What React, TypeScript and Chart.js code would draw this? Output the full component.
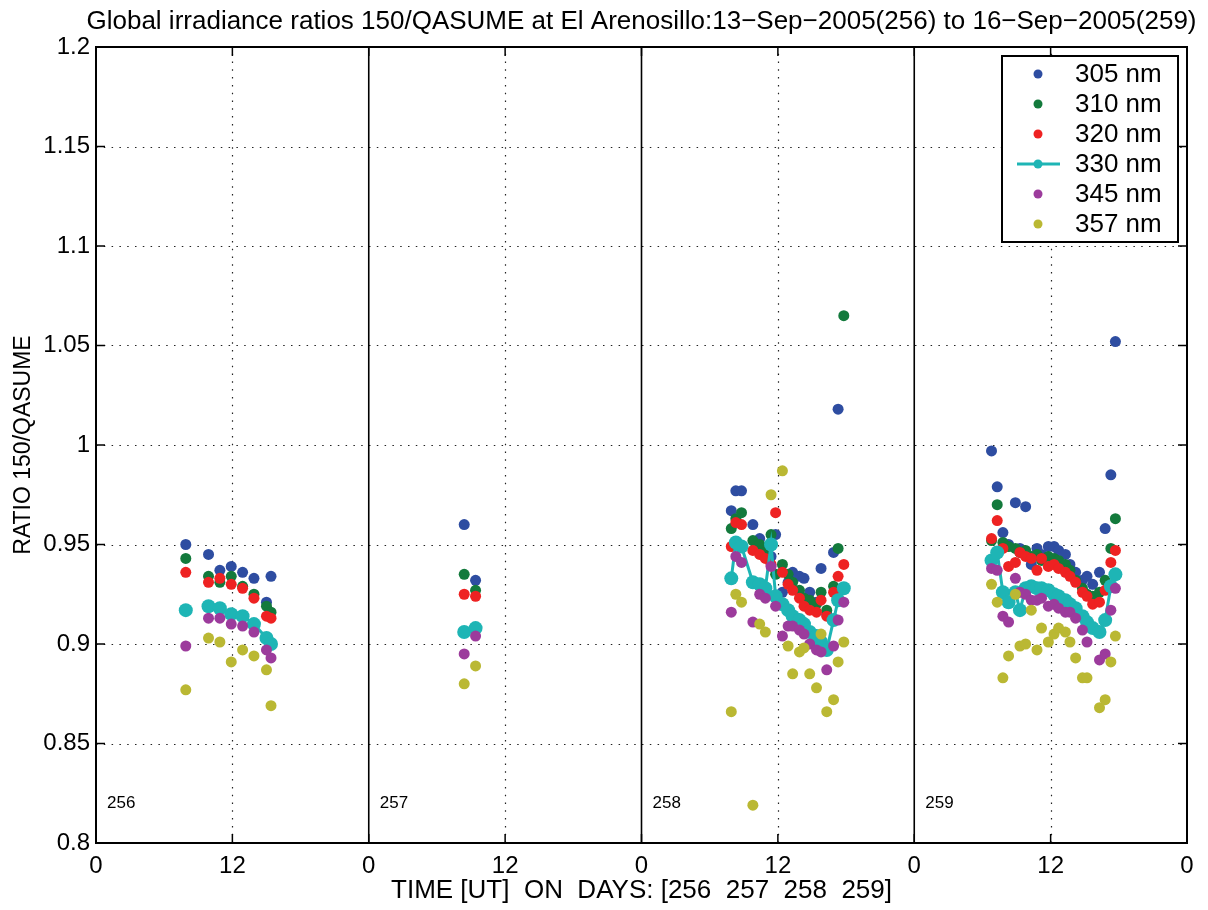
import React, { useEffect, useRef } from 'react';
import { Chart, registerables } from 'chart.js';

Chart.register(...registerables);

const FONT = "'Liberation Sans', Arial, Helvetica, sans-serif";

const titleText =
  'Global irradiance ratios 150/QASUME at El Arenosillo:13\u2212Sep\u22122005(256) to 16\u2212Sep\u22122005(259)';
const xTitle = 'TIME [UT]  ON  DAYS: [256  257  258  259]';
const yTitle = 'RATIO 150/QASUME';

const dayNumbers = [256, 257, 258, 259];
const dayLabelLevel = 0.82;

// measurement times (UT hours) for each day
const hours256 = [7.9, 9.9, 10.9, 11.9, 12.9, 13.9, 15.0, 15.4];
const hours257 = [8.4, 9.4];
const hours258 = [7.9, 8.3, 8.8, 9.8, 10.4, 10.9, 11.4, 11.8, 12.4, 12.9, 13.3, 13.9, 14.3, 14.8, 15.4, 15.8, 16.3, 16.9, 17.3, 17.8];
const hours259 = [6.8, 7.3, 7.8, 8.3, 8.9, 9.3, 9.8, 10.3, 10.8, 11.2, 11.8, 12.3, 12.7, 13.3, 13.7, 14.2, 14.8, 15.2, 15.7, 16.3, 16.8, 17.3, 17.7];
const hoursByDay = [hours256, hours257, hours258, hours259];

const xTickHours = [0, 12, 24, 36, 48, 60, 72, 84, 96];
const xTickLabels = ['0', '12', '0', '12', '0', '12', '0', '12', '0'];
const yTicks = [0.8, 0.85, 0.9, 0.95, 1.0, 1.05, 1.1, 1.15, 1.2];
const yTickLabels = ['0.8', '0.85', '0.9', '0.95', '1', '1.05', '1.1', '1.15', '1.2'];

const seriesNames = ['305 nm', '310 nm', '320 nm', '330 nm', '345 nm', '357 nm'];
const seriesColors = ['#2e4da1', '#137a3c', '#ee2222', '#1eb5b5', '#9c3b9c', '#bab833'];

type V = number | null;

const s305: V[][] = [
  [0.950, 0.945, 0.937, 0.939, 0.936, 0.933, 0.921, 0.934],
  [0.960, 0.932],
  [0.967, 0.977, 0.977, 0.960, 0.953, 0.948, 0.944, 0.955, 0.926, 0.931, 0.936, 0.934, 0.933, 0.926, 0.921, 0.938, 0.915, 0.946, 1.018, null],
  [0.997, 0.979, 0.956, 0.950, 0.971, 0.948, 0.969, 0.940, 0.948, 0.945, 0.949, 0.949, 0.947, 0.945, 0.940, 0.936, 0.932, 0.934, 0.930, 0.936, 0.958, 0.985, 1.052],
];
const s310: V[][] = [
  [0.943, 0.934, 0.931, 0.934, 0.929, 0.925, 0.919, 0.916],
  [0.935, 0.927],
  [0.958, 0.963, 0.966, 0.952, 0.950, 0.946, 0.955, 0.935, 0.940, 0.935, 0.931, 0.927, 0.923, 0.922, 0.920, 0.926, 0.917, 0.929, 0.948, 1.065],
  [0.952, 0.970, 0.951, 0.949, 0.948, 0.946, 0.947, 0.944, 0.945, 0.942, 0.944, 0.943, 0.942, 0.940, 0.937, 0.932, 0.928, 0.925, 0.924, 0.926, 0.932, 0.948, 0.963],
];
const s320: V[][] = [
  [0.936, 0.931, 0.933, 0.930, 0.928, 0.923, 0.914, 0.913],
  [0.925, 0.924],
  [0.949, 0.961, 0.960, 0.947, 0.945, 0.943, 0.940, 0.966, 0.936, 0.930, 0.927, 0.923, 0.919, 0.917, 0.916, 0.922, 0.914, 0.926, 0.934, 0.940],
  [0.953, 0.962, 0.948, 0.939, 0.941, 0.946, 0.944, 0.943, 0.937, 0.943, 0.939, 0.940, 0.938, 0.936, 0.934, 0.931, 0.926, 0.924, 0.920, 0.921, 0.927, 0.941, 0.947],
];
const s330: V[][] = [
  [0.917, 0.919, 0.918, 0.915, 0.914, 0.910, 0.903, 0.900],
  [0.906, 0.908],
  [0.933, 0.951, 0.949, 0.931, 0.930, 0.928, 0.950, 0.924, 0.920, 0.917, 0.914, 0.912, 0.910, 0.906, 0.904, 0.901, 0.897, 0.912, 0.922, 0.928],
  [0.942, 0.946, 0.926, 0.921, 0.926, 0.917, 0.928, 0.929, 0.928, 0.928, 0.927, 0.925, 0.924, 0.922, 0.920, 0.918, 0.914, 0.911, 0.908, 0.906, 0.912, 0.929, 0.935],
];
const s345: V[][] = [
  [0.899, 0.913, 0.913, 0.910, 0.909, 0.906, 0.897, 0.893],
  [0.895, 0.904],
  [0.916, 0.944, 0.941, 0.911, 0.925, 0.923, 0.939, 0.919, 0.904, 0.909, 0.909, 0.907, 0.905, 0.900, 0.897, 0.896, 0.887, 0.899, 0.912, 0.921],
  [0.938, 0.937, 0.914, 0.911, 0.933, 0.926, 0.925, 0.922, 0.922, 0.923, 0.919, 0.920, 0.918, 0.916, 0.916, 0.913, 0.907, 0.901, null, 0.892, 0.895, 0.917, 0.928],
];
const s357: V[][] = [
  [0.877, 0.903, 0.901, 0.891, 0.897, 0.894, 0.887, 0.869],
  [0.880, 0.889],
  [0.866, 0.925, 0.921, 0.819, 0.910, 0.906, 0.975, null, 0.987, 0.899, 0.885, 0.896, 0.898, 0.885, 0.878, 0.905, 0.866, 0.872, 0.891, 0.901],
  [0.930, 0.921, 0.883, 0.894, 0.925, 0.899, 0.900, 0.917, 0.897, 0.908, 0.901, 0.905, 0.908, 0.906, 0.901, 0.893, 0.883, 0.883, null, 0.868, 0.872, 0.891, 0.904],
];
const allSeries = [s305, s310, s320, s330, s345, s357];

function buildPoints(values: V[][], withGaps: boolean) {
  const pts: { x: number; y: number | null }[] = [];
  values.forEach((dayVals, d) => {
    const times = hoursByDay[d];
    let prev: number | null = null;
    dayVals.forEach((v, j) => {
      if (v === null) return;
      const x = d * 24 + times[j];
      if (withGaps && prev !== null && x - prev > 1.5) pts.push({ x: (x + prev) / 2, y: null });
      pts.push({ x, y: v });
      prev = x;
    });
    if (withGaps) pts.push({ x: d * 24 + 23.5, y: null });
  });
  return pts;
}

const framePlugin = {
  id: 'matlabFrame',
  beforeDatasetsDraw(chart: any) {
    const { ctx, chartArea: a, scales } = chart;
    const xs = scales.x;
    const ys = scales.y;
    ctx.save();
    // dotted grid
    ctx.strokeStyle = '#222';
    ctx.lineWidth = 1.2;
    ctx.setLineDash([1.5, 6.3]);
    ctx.beginPath();
    xTickHours.forEach((v) => {
      if (v % 24 === 0) return;
      const px = Math.round(xs.getPixelForValue(v)) + 0.5;
      ctx.moveTo(px, a.bottom);
      ctx.lineTo(px, a.top);
    });
    yTicks.forEach((v, i) => {
      if (i === 0 || i === yTicks.length - 1) return;
      const py = Math.round(ys.getPixelForValue(v)) + 0.5;
      ctx.moveTo(a.left, py);
      ctx.lineTo(a.right, py);
    });
    ctx.stroke();
    ctx.setLineDash([]);
    // day separators
    ctx.strokeStyle = '#000';
    ctx.lineWidth = 1.6;
    ctx.beginPath();
    for (let d = 1; d < dayNumbers.length; d++) {
      const px = xs.getPixelForValue(d * 24);
      ctx.moveTo(px, a.top);
      ctx.lineTo(px, a.bottom);
    }
    ctx.stroke();
    // day labels
    ctx.fillStyle = '#000';
    ctx.font = `17px ${FONT}`;
    ctx.textBaseline = 'middle';
    ctx.textAlign = 'left';
    dayNumbers.forEach((d, i) => {
      ctx.fillText(String(d), xs.getPixelForValue(i * 24) + 11, ys.getPixelForValue(dayLabelLevel));
    });
    ctx.restore();
  },
  afterDatasetsDraw(chart: any) {
    const { ctx, chartArea: a, scales } = chart;
    const xs = scales.x;
    const ys = scales.y;
    ctx.save();
    // box
    ctx.strokeStyle = '#000';
    ctx.lineWidth = 2;
    ctx.strokeRect(a.left, a.top, a.right - a.left, a.bottom - a.top);
    // inward ticks
    ctx.lineWidth = 1.5;
    ctx.beginPath();
    xTickHours.forEach((v) => {
      const px = xs.getPixelForValue(v);
      ctx.moveTo(px, a.bottom);
      ctx.lineTo(px, a.bottom - 9);
      ctx.moveTo(px, a.top);
      ctx.lineTo(px, a.top + 9);
    });
    yTicks.forEach((v) => {
      const py = ys.getPixelForValue(v);
      ctx.moveTo(a.left, py);
      ctx.lineTo(a.left + 9, py);
      ctx.moveTo(a.right, py);
      ctx.lineTo(a.right - 9, py);
    });
    ctx.stroke();

    // legend
    const lw = 176;
    const lh = 186;
    const lx = a.right - 9 - lw;
    const ly = a.top + 9;
    ctx.fillStyle = '#fff';
    ctx.fillRect(lx, ly, lw, lh);
    ctx.lineWidth = 2;
    ctx.strokeStyle = '#000';
    ctx.strokeRect(lx, ly, lw, lh);
    ctx.font = `26px ${FONT}`;
    ctx.textBaseline = 'middle';
    ctx.textAlign = 'left';
    seriesNames.forEach((name, i) => {
      const cy = ly + 18 + i * 30;
      const mx = lx + 36;
      if (i === 3) {
        ctx.strokeStyle = seriesColors[i];
        ctx.lineWidth = 3;
        ctx.beginPath();
        ctx.moveTo(lx + 15, cy);
        ctx.lineTo(lx + 58, cy);
        ctx.stroke();
      }
      ctx.fillStyle = seriesColors[i];
      ctx.beginPath();
      ctx.arc(mx, cy, 4.5, 0, Math.PI * 2);
      ctx.fill();
      ctx.fillStyle = '#000';
      ctx.fillText(name, lx + 73, cy + 1);
    });

    // titles
    ctx.fillStyle = '#000';
    ctx.textAlign = 'center';
    ctx.textBaseline = 'alphabetic';
    ctx.font = `26px ${FONT}`;
    ctx.fillText(titleText, (a.left + a.right) / 2, 29);
    ctx.font = `26px ${FONT}`;
    ctx.fillText(xTitle, (a.left + a.right) / 2, 898);
    ctx.translate(30, (a.top + a.bottom) / 2);
    ctx.rotate(-Math.PI / 2);
    ctx.font = `23px ${FONT}`;
    ctx.fillText(yTitle, 0, 0);
    ctx.restore();
  },
};

export default function App() {
  const ref = useRef<HTMLCanvasElement>(null);
  useEffect(() => {
    if (!ref.current) return;
    const order = [6, 5, 4, 3, 2, 1];
    const datasets = allSeries.map((s, i) => {
      const isLine = i === 3;
      return {
        label: seriesNames[i],
        data: buildPoints(s, isLine),
        showLine: isLine,
        spanGaps: false,
        borderColor: seriesColors[i],
        backgroundColor: seriesColors[i],
        borderWidth: isLine ? 3 : 0,
        pointRadius: isLine ? 7 : 5.5,
        pointBorderWidth: 0,
        pointBackgroundColor: seriesColors[i],
        pointHoverRadius: isLine ? 7 : 5.5,
        order: order[i],
      };
    });
    const chart = new Chart(ref.current, {
      type: 'scatter',
      data: { datasets },
      options: {
        animation: false,
        responsive: false,
        events: [],
        layout: { padding: { top: 47, right: 21, left: 0, bottom: 0 } },
        plugins: { legend: { display: false }, tooltip: { enabled: false }, title: { display: false } },
        scales: {
          x: {
            type: 'linear',
            min: 0,
            max: 96,
            grid: { display: false, drawTicks: false },
            border: { display: false },
            afterBuildTicks: (scale: any) => {
              scale.ticks = xTickHours.map((v) => ({ value: v }));
            },
            afterFit: (scale: any) => {
              scale.height = 67;
            },
            ticks: {
              autoSkip: false,
              maxRotation: 0,
              padding: 9,
              color: '#000',
              font: { family: FONT, size: 24 },
              callback: (_v: any, i: number) => xTickLabels[i],
            },
          },
          y: {
            type: 'linear',
            min: 0.8,
            max: 1.2,
            grid: { display: false, drawTicks: false },
            border: { display: false },
            afterBuildTicks: (scale: any) => {
              scale.ticks = yTicks.map((v) => ({ value: v }));
            },
            afterFit: (scale: any) => {
              scale.width = 96;
            },
            ticks: {
              autoSkip: false,
              padding: 6,
              color: '#000',
              font: { family: FONT, size: 24 },
              callback: (_v: any, i: number) => yTickLabels[i],
            },
          },
        },
      },
      plugins: [framePlugin],
    });
    return () => chart.destroy();
  }, []);
  return (
    <div style={{ position: 'absolute', left: 0, top: 0, width: 1208, height: 910, background: '#fff' }}>
      <canvas ref={ref} width={1208} height={910} style={{ display: 'block' }} />
    </div>
  );
}
